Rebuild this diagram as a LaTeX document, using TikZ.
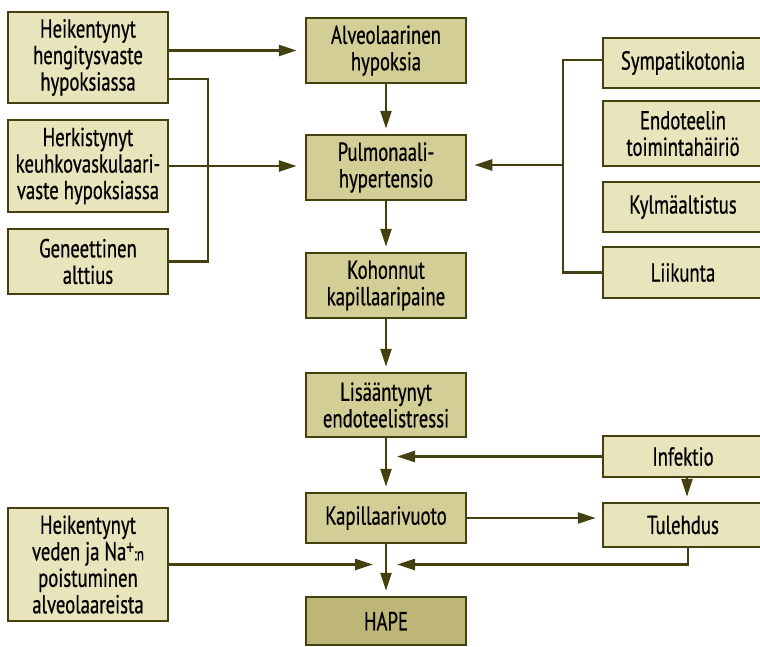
\documentclass[tikz,border=0pt]{standalone}
\usepackage{fontspec}
\setmainfont{PT Sans}[FakeStretch=0.72,FakeBold=0.6]
\usetikzlibrary{arrows.meta}
\definecolor{lightbox}{HTML}{E8E4BC}
\definecolor{midbox}{HTML}{D3CE96}
\definecolor{darkbox}{HTML}{BDB677}
\definecolor{olive}{HTML}{45400F}
\begin{document}
\begin{tikzpicture}[x=1pt,y=-1pt,
  box/.style={draw=olive, line width=2.5pt, minimum width=160pt, align=center, inner sep=0pt,
    font=\fontsize{26}{26.5}\selectfont, text=black},
  lbox/.style={box, fill=lightbox},
  mbox/.style={box, fill=midbox},
  hbox/.style={box, fill=darkbox},
  conn/.style={draw=olive, line width=2.3pt},
  arr/.style={conn, -{Triangle[length=18pt,width=11pt]}}]
\useasboundingbox (0,0) rectangle (760,646);
\clip (0,0) rectangle (760,646);
% left
\node[lbox, minimum height=91pt] (L1) at (88,57.5) {Heikentynyt\\hengitysvaste\\hypoksiassa};
\node[lbox, minimum height=92pt] (L2) at (88,166) {Herkistynyt\\keuhkovaskulaari-\\vaste hypoksiassa};
\node[lbox, minimum height=65pt] (L3) at (88,261.5) {Geneettinen\\alttius};
\node[lbox, minimum height=113pt] (L4) at (88,564.5) {Heikentynyt\\veden ja Na\raisebox{6pt}{\fontsize{21}{21}\selectfont +}{\fontsize{18}{18}\selectfont:n}\\poistuminen\\alveolaareista};
% center
\node[mbox, minimum height=65pt] (C1) at (386,50.5) {Alveolaarinen\\hypoksia};
\node[mbox, minimum height=65pt] (C2) at (386,167.5) {Pulmonaali-\\hypertensio};
\node[mbox, minimum height=65pt] (C3) at (386,285.5) {Kohonnut\\kapillaaripaine};
\node[mbox, minimum height=64pt] (C4) at (386,405) {Lisääntynyt\\endoteelistressi};
\node[mbox, minimum height=50pt] (C5) at (386,518) {Kapillaarivuoto};
\node[hbox, minimum height=48pt] (C6) at (386,621) {HAPE};
% right
\node[lbox, minimum height=50pt] (R1) at (683,63) {Sympatikotonia};
\node[lbox, minimum height=65pt] (R2) at (683,133.5) {Endoteelin\\toimintahäiriö};
\node[lbox, minimum height=50pt] (R3) at (683,207) {Kylmäaltistus};
\node[lbox, minimum height=51pt] (R4) at (683,272.5) {Liikunta};
\node[lbox, minimum height=41pt] (R5) at (683,456.5) {Infektio};
\node[lbox, minimum height=44pt] (R6) at (683,525) {Tulehdus};
% junctions
\coordinate (j1) at (208,165);
\coordinate (j2) at (563,165);
% connectors left
\draw[arr] (L1.east |- C1.west) -- ([xshift=-8pt]C1.west);
\draw[conn] ([yshift=-21.5pt]L1.east) -| (j1) |- (L3.east);
\draw[arr] (L2.east) -- ([xshift=-8pt]C2.west |- L2.east);
% connectors right
\draw[conn] ([yshift=3pt]R1.west) -| (j2) |- (R4.west);
\draw[arr] (j2) -- ([xshift=7pt]C2.east |- j2);
% spine
\draw[arr] (C1.south) -- ([yshift=5pt]C2.north);
\draw[arr] (C2.south) -- ([yshift=5pt]C3.north);
\draw[arr] (C3.south) -- ([yshift=5pt]C4.north);
\draw[arr] (C4.south) -- ([yshift=5pt]C5.north);
\draw[arr] (C5.south) -- ([yshift=5pt]C6.north);
% bottom right
\draw[arr] (R5.west) -- ([xshift=11pt]C4.south |- R5.west);
\draw[arr] ([xshift=4pt]R5.south) -- ([xshift=4pt,yshift=5pt]R6.north);
\draw[arr] (C5.east) -- ([xshift=-6pt]R6.west |- C5.east);
\draw[arr] (L4.east) -- ([xshift=-13pt]C6.north |- L4.east);
\draw[arr] ([xshift=5pt]R6.south) |- ([xshift=11pt]C6.north |- L4.east);
\end{tikzpicture}
\end{document}
